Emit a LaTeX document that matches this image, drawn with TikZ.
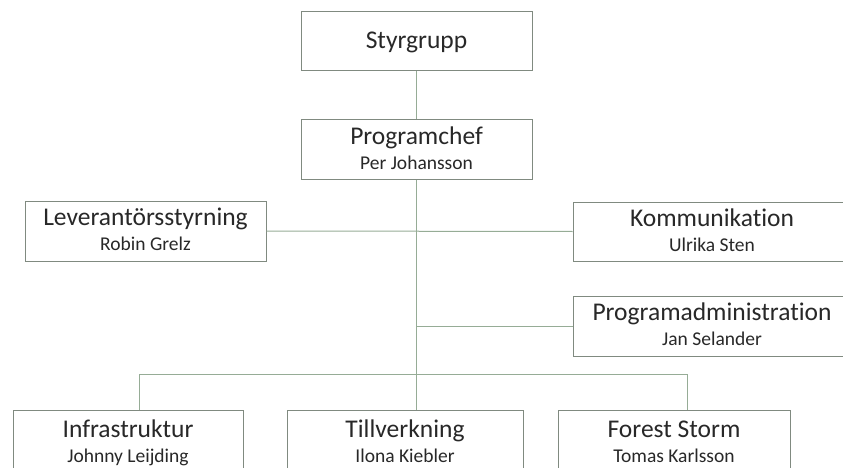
\documentclass[tikz,border=0pt]{standalone}
\usepackage{fontspec}
\setmainfont{Carlito}[Ligatures={NoCommon}]
\usetikzlibrary{positioning, calc}

\definecolor{boxline}{RGB}{128,138,128}
\definecolor{linkline}{RGB}{150,172,150}
\definecolor{textgray}{RGB}{40,40,40}

\newcommand{\titletext}[1]{{\fontsize{25.5}{25}\selectfont\vphantom{Tl}#1}}
\newcommand{\nametext}[1]{{\fontsize{19.5}{25}\selectfont #1\vphantom{gy}}}

\tikzset{
  unitbox/.style={draw=boxline, line width=1pt, fill=white, text=textgray,
    align=center, inner sep=0pt, minimum height=59pt,
    font=\fontsize{19.5}{25}\selectfont},
  link/.style={draw=linkline, line width=1pt}
}

\begin{document}
\begin{tikzpicture}[x=1pt, y=-1pt]
  \useasboundingbox (0,0) rectangle (843,468);
  \clip (0,0) rectangle (843,468);

  % top of the chart
  \node[unitbox, minimum width=231pt] (styr) at (416.5,41.5) {\titletext{Styrgrupp}};
  \node[unitbox, minimum width=231pt] (chef) at (416.5,149.5)
    {\titletext{Programchef}\\\nametext{Per Johansson}};

  % staff units
  \node[unitbox, minimum width=241pt, minimum height=60pt] (lev) at (145.5,231)
    {\titletext{Leverantörsstyrning}\\\nametext{Robin Grelz}};
  \node[unitbox, minimum width=298pt, minimum height=59pt] (komm) at (722,231.5)
    {\hspace*{-20pt}\titletext{Kommunikation}\\\hspace*{-20pt}\nametext{Ulrika Sten}};
  \node[unitbox, minimum width=298pt, minimum height=60pt] (adm) at (722,326)
    {\hspace*{-20pt}\titletext{Programadministration}\\\hspace*{-20pt}\nametext{Jan Selander}};

  % line units
  \node[unitbox, minimum width=230pt, minimum height=66pt] (infra) at (128,443)
    {\titletext{Infrastruktur}\\\nametext{Johnny Leijding}};
  \node[unitbox, minimum width=236pt, minimum height=66pt] (till) at (405,443)
    {\titletext{Tillverkning}\\\nametext{Ilona Kiebler}};
  \node[unitbox, minimum width=232pt, minimum height=66pt] (forest) at (674,443)
    {\titletext{Forest Storm}\\\nametext{Tomas Karlsson}};

  \coordinate (barL) at (139,374);
  \coordinate (barR) at (687,374);

  % connectors
  \draw[link] (styr) -- (chef);
  \draw[link] (chef.south) -- (chef.south |- till.north);
  \draw[link] (lev.east) -- (komm.west);
  \draw[link] (adm.west) -- (adm.west -| chef.south);
  \draw[link] (barL) -- (barR);
  \draw[link] (barL) -- (barL |- infra.north);
  \draw[link] (barR) -- (barR |- forest.north);
\end{tikzpicture}
\end{document}
